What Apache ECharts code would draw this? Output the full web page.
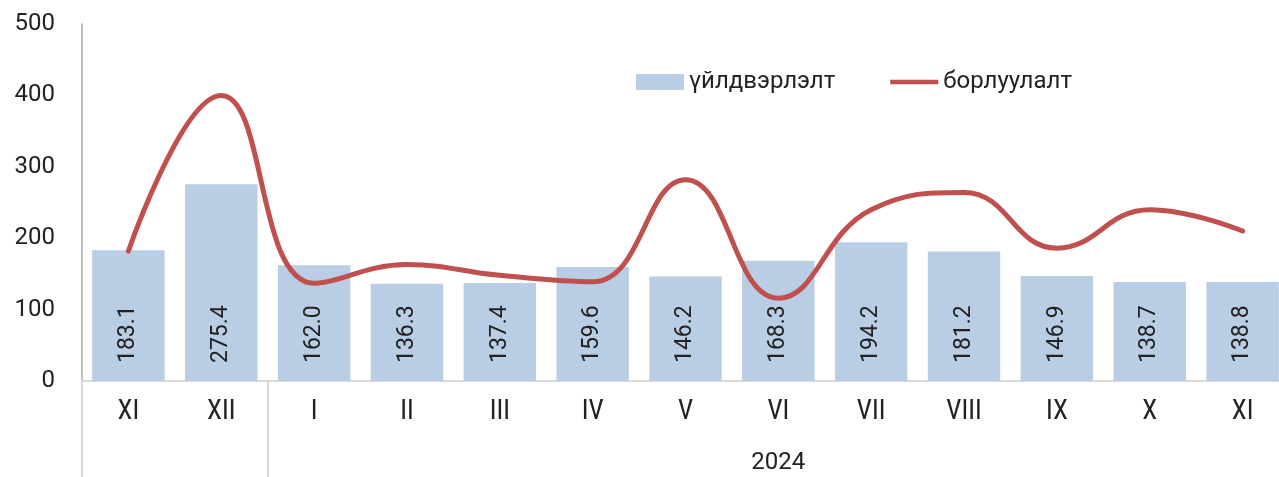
<!DOCTYPE html>
<html>
<head>
<meta charset="utf-8">
<script src="https://cdn.jsdelivr.net/npm/echarts@6/dist/echarts.min.js"></script>
<style>
    html, body { margin: 0; padding: 0; background: #fff; overflow: hidden; }
    #main { width: 1279px; height: 477px; }
</style>
</head>
<body>
<div id="main"></div>
<script>
//сарууд
var months = ['XI', 'XII', 'I', 'II', 'III', 'IV', 'V', 'VI', 'VII', 'VIII', 'IX', 'X', 'XI'];
//жилийн шошго (2024 оны сарын голд)
var yearLabels = ['', '', '', '', '', '', '', '2024', '', '', '', '', ''];
//үйлдвэрлэлт
var production = [183.1, 275.4, 162.0, 136.3, 137.4, 159.6, 146.2, 168.3, 194.2, 181.2, 146.9, 138.7, 138.8];
//борлуулалт
var sales = [182, 400, 137, 163, 148, 139, 282, 116, 240, 264, 186, 240, 210];
//y тэнхлэгийн хуваарь
var yMin = 0;
var yMax = 500;
var yStep = 100;

var font = 'Roboto, "Noto Sans", sans-serif';
var narrowFont = '"Liberation Sans Narrow", "Roboto Condensed", Roboto, sans-serif';
var chart = echarts.init(document.getElementById('main'));

var option = {
    animation: false,
    textStyle: { fontFamily: font },
    //баруун талдаа зургийн ирмэгээс бага зэрэг гарна
    grid: { left: 82, right: -10, top: 24, bottom: 96, containLabel: false, outerBoundsMode: 'none' },
    legend: {
        left: 636,
        top: 70,
        padding: 0,
        itemWidth: 48,
        itemHeight: 16,
        itemGap: 55,
        textStyle: { fontSize: 24, color: '#222', fontFamily: font },
        data: [
            { name: 'үйлдвэрлэлт', icon: 'rect' },
            { name: 'борлуулалт', icon: 'path://M0,0L52,0L52,5L0,5Z' }
        ]
    },
    xAxis: [{
        type: 'category',
        data: months,
        boundaryGap: true,
        axisLine: { lineStyle: { color: '#d9d9d9', width: 2 } },
        axisTick: {
            show: true,
            length: 96,
            lineStyle: { color: '#d9d9d9', width: 2 },
            interval: function (index) { return index === 0 || index === 2; }
        },
        axisLabel: { fontSize: 27, fontFamily: narrowFont, color: '#222', margin: 18, interval: 0 }
    }, {
        type: 'category',
        data: yearLabels,
        position: 'bottom',
        axisLine: { show: false },
        axisTick: { show: false },
        axisLabel: { fontSize: 24, color: '#222', margin: 70, interval: 0 }
    }],
    yAxis: {
        type: 'value',
        min: yMin,
        max: yMax,
        interval: yStep,
        axisLine: { show: true, lineStyle: { color: '#bfbfbf', width: 2 } },
        axisTick: { show: false },
        splitLine: { show: false },
        axisLabel: { fontSize: 24, color: '#222', margin: 27 }
    },
    series: [{
        name: 'үйлдвэрлэлт',
        type: 'bar',
        data: production,
        barCategoryGap: '22%',
        itemStyle: { color: '#b9cde5' },
        label: {
            show: true,
            position: 'insideBottom',
            rotate: 90,
            align: 'left',
            verticalAlign: 'middle',
            distance: 18,
            fontSize: 23,
            color: '#222',
            formatter: function (p) { return p.value.toFixed(1); }
        }
    }, {
        name: 'борлуулалт',
        type: 'line',
        data: sales,
        smooth: 0.45,
        symbol: 'none',
        lineStyle: { color: '#c0504d', width: 5, cap: 'round' },
        itemStyle: { color: '#c0504d' }
    }]
};

chart.setOption(option);
</script>
</body>
</html>
